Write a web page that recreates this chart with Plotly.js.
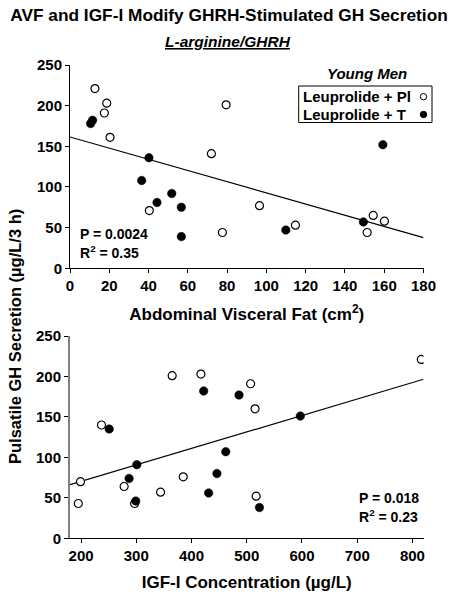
<!DOCTYPE html>
<html>
<head>
<meta charset="utf-8">
<script src="https://cdn.plot.ly/plotly-3.0.1.min.js"></script>
<style>html,body{margin:0;padding:0;background:#fff;}#chart{width:456px;height:601px;}</style>
</head>
<body>
<div id="chart"></div>
<script>
// ---- Data ----
// Top panel: Abdominal visceral fat (cm2) vs pulsatile GH secretion
const avfPl = [12.7, 18.7, 17.5, 20.4, 79.5, 72.0, 40.4, 77.6, 96.5, 114.8, 154.4, 160.1, 151.3];
const ghPlA = [221, 203, 191, 161, 201, 141, 71, 44, 77, 53, 65, 58, 44];
const avfT  = [10.5, 11.5, 40.2, 36.5, 51.8, 44.3, 56.7, 56.7, 109.9, 149.4, 159.3];
const ghTA  = [178, 182, 136, 108, 92, 81, 75, 39, 47, 57, 152];
const fitAvfX = [0, 180];
const fitAvfY = [161.5, 37.7];

// Bottom panel: IGF-I concentration (ug/L) vs pulsatile GH secretion
const igfPl = [195, 199, 237, 278, 297, 344, 365, 385, 417, 507, 515, 517, 816];
const ghPlB = [43, 70, 140, 64, 43, 57, 201, 76, 203, 191, 160, 52, 221];
const igfT  = [251, 287, 301, 299, 422, 431, 446, 462, 486, 523, 597];
const ghTB  = [135, 74, 91, 46, 182, 56, 80, 107, 177, 38, 151];
const fitIgfX = [180, 820];
const fitIgfY = [66.3, 196.5];

const avfTicks = [0, 20, 40, 60, 80, 100, 120, 140, 160, 180];
const igfTicks = [200, 300, 400, 500, 600, 700, 800];
const ghTicks  = [0, 50, 100, 150, 200, 250];

const seriesNames = ['Leuprolide + Pl', 'Leuprolide + T'];

// ---- Styling ----
const FONT = 'Arial, "Liberation Sans", sans-serif';
const openMarker = {symbol: 'circle', size: 8, color: '#ffffff', line: {color: '#000000', width: 1.2}};
const fillMarker = {symbol: 'circle', size: 8.5, color: '#000000', line: {color: '#000000', width: 0.5}};
const fitLine = {color: '#000000', width: 1.2};

const traces = [
  {x: fitAvfX, y: fitAvfY, xaxis: 'x', yaxis: 'y', mode: 'lines', line: fitLine, showlegend: false, hoverinfo: 'skip'},
  {x: avfPl, y: ghPlA, xaxis: 'x', yaxis: 'y', mode: 'markers', marker: openMarker, name: seriesNames[0], showlegend: false},
  {x: avfT, y: ghTA, xaxis: 'x', yaxis: 'y', mode: 'markers', marker: fillMarker, name: seriesNames[1], showlegend: false},
  {x: fitIgfX, y: fitIgfY, xaxis: 'x2', yaxis: 'y2', mode: 'lines', line: fitLine, showlegend: false, hoverinfo: 'skip'},
  {x: igfPl, y: ghPlB, xaxis: 'x2', yaxis: 'y2', mode: 'markers', marker: openMarker, name: seriesNames[0], showlegend: false},
  {x: igfT, y: ghTB, xaxis: 'x2', yaxis: 'y2', mode: 'markers', marker: fillMarker, name: seriesNames[1], showlegend: false}
];

const W = 456, H = 601;
const px = v => v / W;
const py = v => 1 - v / H;

const tickFont = {family: FONT, size: 15, color: '#000', weight: 'bold'};
const titleFont = {family: FONT, size: 17, color: '#000', weight: 'bold'};

function xAxis(domain, range, ticks, anchor, title, standoff) {
  return {
    domain: domain, range: range, anchor: anchor,
    tickmode: 'array', tickvals: ticks, ticktext: ticks.map(String),
    ticks: 'outside', ticklen: 4, tickwidth: 1, tickcolor: '#000',
    showline: true, linecolor: '#000', linewidth: 1,
    showgrid: false, zeroline: false,
    tickfont: tickFont,
    title: {text: title, font: titleFont, standoff: standoff}
  };
}
function yAxis(domain, anchor, lineColor, lineWidth) {
  return {
    domain: domain, range: [0, 250], anchor: anchor,
    tickmode: 'array', tickvals: ghTicks, ticktext: ghTicks.map(String),
    ticks: 'outside', ticklen: 4, tickwidth: 1, tickcolor: '#000',
    showline: true, linecolor: lineColor, linewidth: lineWidth,
    showgrid: false, zeroline: false,
    tickfont: tickFont
  };
}

function legendKey(yPix, filled) {
  return {
    type: 'circle', xref: 'paper', yref: 'paper',
    xsizemode: 'pixel', ysizemode: 'pixel',
    xanchor: px(423.5), yanchor: py(yPix),
    x0: -3.2, x1: 3.2, y0: -3.2, y1: 3.2,
    line: {color: '#000', width: 1},
    fillcolor: filled ? '#000' : '#fff'
  };
}

const legendFont = {family: FONT, size: 15, color: '#000', weight: 'bold'};
const statFont = {family: FONT, size: 14, color: '#000', weight: 'bold'};

const xDom = [px(70), px(423.5)];
const layout = {
  width: W, height: H,
  margin: {l: 0, r: 0, t: 0, b: 0},
  paper_bgcolor: '#fff', plot_bgcolor: 'rgba(0,0,0,0)',
  font: {family: FONT, color: '#000'},
  showlegend: false,
  title: {
    text: 'AVF and IGF-I Modify GHRH-Stimulated GH Secretion',
    font: {family: FONT, size: 17.3, color: '#000', weight: 'bold'},
    x: px(229), xanchor: 'center', y: py(15), yanchor: 'middle', xref: 'paper', yref: 'paper'
  },
  xaxis: xAxis(xDom, [0, 180], avfTicks, 'y', 'Abdominal Visceral Fat (cm<sup>2</sup>)', 14),
  yaxis: yAxis([py(268.3), py(65)], 'x', '#000', 1),
  xaxis2: xAxis(xDom, [180, 820], igfTicks, 'y2', 'IGF-I Concentration (µg/L)', 12),
  yaxis2: yAxis([py(538.3), py(336)], 'x2', '#808080', 2),
  shapes: [
    {type: 'rect', xref: 'paper', yref: 'paper', x0: px(298.7), x1: px(432), y0: py(122.5), y1: py(86),
     line: {color: '#000', width: 1}, fillcolor: 'rgba(0,0,0,0)'},
    legendKey(96.7, false),
    legendKey(114.5, true)
  ],
  annotations: [
    {text: '<i><u>L-arginine/GHRH</u></i>', xref: 'paper', yref: 'paper', x: px(227.5), y: py(42), xanchor: 'center', yanchor: 'middle',
     showarrow: false, font: {family: FONT, size: 15.5, color: '#000', weight: 'bold'}},
    {text: '<i>Young Men</i>', xref: 'paper', yref: 'paper', x: px(366.7), y: py(73.3), xanchor: 'center', yanchor: 'middle',
     showarrow: false, font: legendFont},
    {text: seriesNames[0], xref: 'paper', yref: 'paper', x: px(300.5), y: py(96.7), xanchor: 'left', yanchor: 'middle',
     showarrow: false, font: legendFont},
    {text: seriesNames[1], xref: 'paper', yref: 'paper', x: px(300.5), y: py(114.5), xanchor: 'left', yanchor: 'middle',
     showarrow: false, font: legendFont},
    {text: 'P = 0.0024', xref: 'paper', yref: 'paper', x: px(78), y: py(234.3), xanchor: 'left', yanchor: 'middle',
     showarrow: false, font: statFont},
    {text: 'R<sup>2</sup> = 0.35', xref: 'paper', yref: 'paper', x: px(78), y: py(251.7), xanchor: 'left', yanchor: 'middle',
     showarrow: false, font: statFont},
    {text: 'P = 0.018', xref: 'paper', yref: 'paper', x: px(356.7), y: py(498.3), xanchor: 'left', yanchor: 'middle',
     showarrow: false, font: statFont},
    {text: 'R<sup>2</sup> = 0.23', xref: 'paper', yref: 'paper', x: px(356.7), y: py(516), xanchor: 'left', yanchor: 'middle',
     showarrow: false, font: statFont},
    {text: 'Pulsatile GH Secretion (µg/L/3 h)', xref: 'paper', yref: 'paper', x: px(15), y: py(337), xanchor: 'center', yanchor: 'middle',
     textangle: -90, showarrow: false, font: {family: FONT, size: 16.5, color: '#000', weight: 'bold'}}
  ]
};

Plotly.newPlot('chart', traces, layout, {staticPlot: true, displayModeBar: false});
</script>
</body>
</html>
